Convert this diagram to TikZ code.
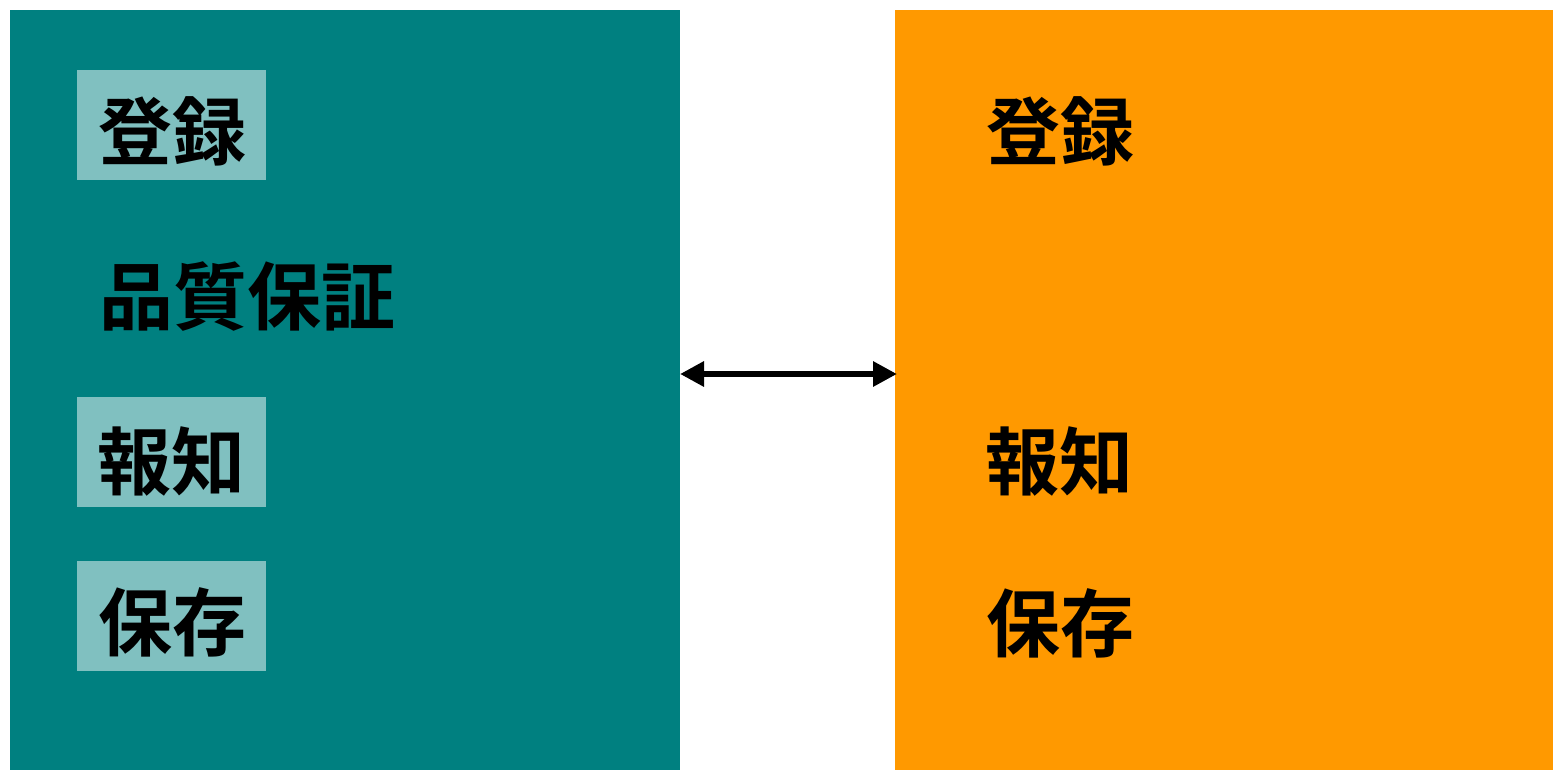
\documentclass[tikz,border=0pt]{standalone}
\usepackage{fontspec}
\newfontfamily\cjk{Noto Sans CJK JP}[BoldFont={* Bold}]
\usetikzlibrary{arrows.meta}
\definecolor{teal0}{HTML}{008080}
\definecolor{teallt}{HTML}{80C0C0}
\definecolor{orng}{HTML}{FF9900}
\begin{document}
\begin{tikzpicture}[x=1pt,y=-1pt,
  panel/.style={draw=none,inner sep=0,outer sep=0},
  hbox/.style={fill=teallt,draw=none,inner sep=0,minimum width=189pt,minimum height=110pt},
  lbl/.style={inner sep=0,font=\cjk\bfseries\fontsize{74}{74}\selectfont,text height=0.88em,text depth=0.12em}]
\useasboundingbox (0,0) rectangle (1553,770);
\node[panel,fill=teal0,minimum width=670pt,minimum height=760pt] (L) at (345,390) {};
\node[panel,fill=orng,minimum width=658pt,minimum height=760pt] (R) at (1224,390) {};
\node[hbox] (b1) at (171.5,125) {};
\node[hbox] (b2) at (171.5,452) {};
\node[hbox] (b3) at (171.5,616) {};
\node[lbl] (t1) at (172,156) {登録};
\node[lbl] (t2) at (247,321) {品質保証};
\node[lbl] (t3) at (171,486) {報知};
\node[lbl] (t4) at (172,647) {保存};
\node[lbl] (r1) at (1060,156) {登録};
\node[lbl] (r2) at (1059,486) {報知};
\node[lbl] (r3) at (1060,648) {保存};
\coordinate (a1) at (L.east |- 0,374);
\coordinate (a2) at (897,374);
\draw[line width=6.5pt,{Triangle[length=24pt,width=24pt]}-{Triangle[length=24pt,width=24pt]}] (a1) -- (a2);
\end{tikzpicture}
\end{document}
